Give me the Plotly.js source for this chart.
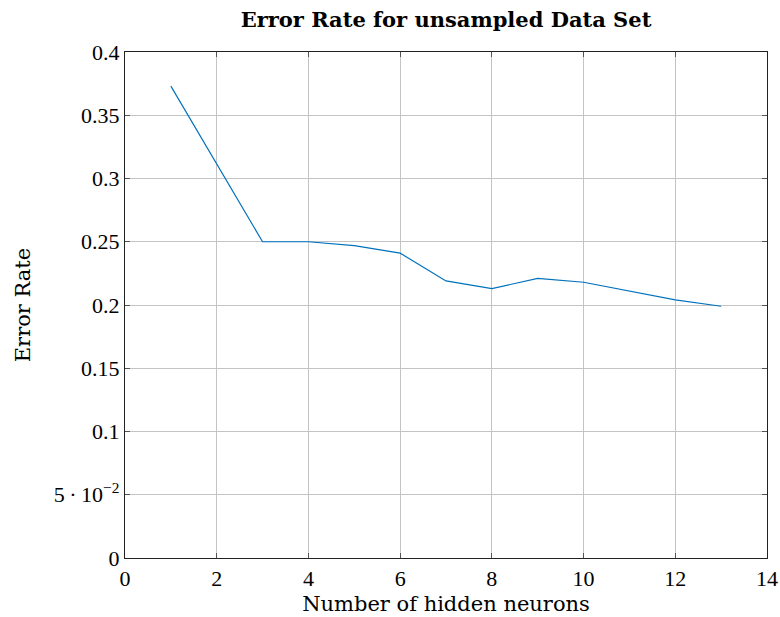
<!DOCTYPE html>
<html>
<head>
<meta charset="utf-8">
<script src="https://cdn.plot.ly/plotly-3.0.1.min.js"></script>
<style>
  html, body { margin: 0; padding: 0; background: #fff; }
  #chart { width: 780px; height: 617px; }
</style>
</head>
<body>
<div id="chart"></div>
<script>
// Hidden-layer size vs. error rate on the unsampled data set
const hiddenNeurons = [1, 2, 3, 4, 5, 6, 7, 8, 9, 10, 11, 12, 13];
const errorRate = [0.373, 0.312, 0.250, 0.250, 0.247, 0.241, 0.219, 0.213, 0.221, 0.218, 0.211, 0.204, 0.199];

const yTickVals = [0, 0.05, 0.1, 0.15, 0.2, 0.25, 0.3, 0.35, 0.4];
const yTickText = ['0', '5\u2009\u00B7\u200910<sup>\u22122</sup>', '0.1', '0.15', '0.2', '0.25', '0.3', '0.35', '0.4'];
const xTickVals = [0, 2, 4, 6, 8, 10, 12, 14];

const tickFont = { family: 'Liberation Serif, Times New Roman, serif', size: 22, color: '#000' };
const labelFont = { family: 'DejaVu Serif, serif', size: 21, color: '#000' };

const trace = {
  x: hiddenNeurons,
  y: errorRate,
  type: 'scatter',
  mode: 'lines',
  line: { color: '#0072bd', width: 1.2 },
  hoverinfo: 'x+y'
};

const axisCommon = {
  showline: true,
  linecolor: '#222',
  linewidth: 1.2,
  mirror: 'ticks',
  ticks: 'inside',
  ticklen: 5,
  tickcolor: '#555',
  tickwidth: 1,
  showgrid: true,
  gridcolor: '#c4c4c4',
  gridwidth: 1,
  zeroline: false,
  tickfont: tickFont
};

const layout = {
  width: 780,
  height: 617,
  margin: { l: 125, r: 13, t: 52, b: 59 },
  paper_bgcolor: '#fff',
  plot_bgcolor: '#fff',
  showlegend: false,
  title: {
    text: '<b>Error Rate for unsampled Data Set</b>',
    font: { family: 'DejaVu Serif, serif', size: 21, color: '#000' },
    x: 0.5, xanchor: 'center', xref: 'paper',
    y: 1, yanchor: 'top', yref: 'container', pad: { t: 12 }
  },
  xaxis: Object.assign({}, axisCommon, {
    range: [0, 14],
    tickmode: 'array',
    tickvals: xTickVals,
    title: { text: 'Number of hidden neurons', font: labelFont, standoff: 6 }
  }),
  yaxis: Object.assign({}, axisCommon, {
    range: [0, 0.4],
    tickmode: 'array',
    tickvals: yTickVals,
    ticktext: yTickText,
    title: { text: 'Error Rate', font: labelFont, standoff: 17 }
  })
};

Plotly.newPlot('chart', [trace], layout, { displayModeBar: false, staticPlot: true });
</script>
</body>
</html>
